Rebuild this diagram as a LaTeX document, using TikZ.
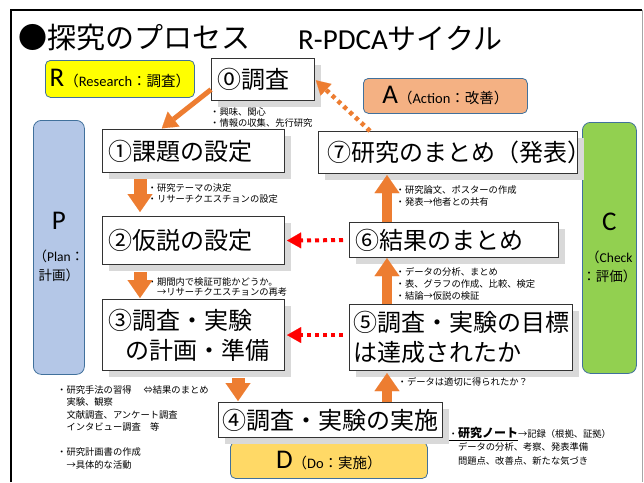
\documentclass[tikz,border=0pt]{standalone}
\usepackage{fontspec}
\setmainfont{Noto Sans CJK JP}
\newfontfamily\lat{Carlito}
\usepackage{tikz}
\usetikzlibrary{arrows.meta,shadows}

\definecolor{arrorange}{HTML}{ED7D31}
\definecolor{dotred}{HTML}{FF0000}
\definecolor{rfill}{HTML}{FFFF00}
\definecolor{afill}{HTML}{F4B183}
\definecolor{dfill}{HTML}{FFD966}
\definecolor{pfill}{HTML}{B4C7E7}
\definecolor{cfill}{HTML}{92D050}
\definecolor{labeledge}{HTML}{41719C}
\definecolor{shadowgray}{HTML}{D9D9D9}

\tikzset{
	stepbox/.style={draw=black!80, line width=1.1pt, fill=white, anchor=north west,
		align=left, inner xsep=6pt, inner ysep=0pt,
		font=\fontsize{24}{30}\selectfont,
		drop shadow={shadow xshift=6pt, shadow yshift=-6pt, fill=shadowgray, opacity=1}},
	labelbox/.style={draw=labeledge, line width=0.8pt, rounded corners=5pt,
		anchor=north west, align=center, inner sep=0pt},
	notetext/.style={anchor=north west, align=left, inner sep=0pt,
		font=\fontsize{9.3}{11}\selectfont},
	fatarrow/.style={draw=arrorange, line width=12pt,
		-{Triangle[width=25pt,length=18pt,line width=0.1pt]}},
	dotarrow/.style={line width=4pt, dash pattern=on 4pt off 4pt,
		-{Triangle[width=16pt,length=14pt,line width=0.1pt]}},
}

\begin{document}
\begin{tikzpicture}[x=1pt,y=-1pt]
	\useasboundingbox (0,0) rectangle (644,482);

	% frame
	\draw [line width=2pt] (11,482) -- (11,10) -- (642,10);
	\draw [black!35] (642,10) -- (642,482);

	% title
	\node [anchor=west, inner sep=0pt, font=\fontsize{29}{29}\selectfont] (title) at (18,38) {●探究のプロセス};
	\node [anchor=west, inner sep=0pt, font=\fontsize{29}{29}\selectfont] (subtitle) at (298,38) {{\lat R-PDCA}サイクル};

	% R P D C A labels
	\node [labelbox, fill=rfill, minimum width=149pt, minimum height=37pt] (rlabel) at (45,60)
		{{\lat\fontsize{27}{27}\selectfont R}{\fontsize{14.5}{14.5}\selectfont （{\lat Research}：調査）}};
	\node [labelbox, fill=afill, minimum width=164pt, minimum height=35pt] (alabel) at (363,78)
		{{\lat\fontsize{27}{27}\selectfont A}{\fontsize{14.5}{14.5}\selectfont （{\lat Action}：改善）}};
	\node [labelbox, fill=dfill, minimum width=197pt, minimum height=36pt] (dlabel) at (230,442)
		{{\lat\fontsize{27}{27}\selectfont D}{\fontsize{14.5}{14.5}\selectfont （{\lat Do}：実施）}};
	\node [labelbox, fill=pfill, rounded corners=8pt, minimum width=51pt, minimum height=254pt,
		font=\fontsize{13.5}{19}\selectfont] (plabel) at (33,120)
		{{\lat\fontsize{27}{27}\selectfont P}\\[13pt]（{\lat Plan}：\\計画）};
	\node [labelbox, fill=cfill, rounded corners=8pt, minimum width=53pt, minimum height=251pt,
		font=\fontsize{13.5}{19}\selectfont] (clabel) at (582,122)
		{{\lat\fontsize{27}{27}\selectfont C}\\[13pt]（{\lat Check}\\：評価）};

	% steps
	\node [stepbox, text width=91pt, minimum height=42pt] (s0) at (211,58) {⓪調査};
	\node [stepbox, text width=170pt, minimum height=43pt] (s1) at (102,129) {①課題の設定};
	\node [stepbox, text width=170pt, minimum height=48pt] (s2) at (102,216) {②仮説の設定};
	\node [stepbox, text width=170pt, minimum height=71pt] (s3) at (102,299) {③調査・実験\\\hspace*{17pt}の計画・準備};
	\node [stepbox, text width=220pt, minimum height=35pt, inner xsep=2pt, align=center] (s4) at (218,402) {④調査・実験の実施};
	\node [stepbox, text width=215pt, minimum height=66pt, inner xsep=4pt] (s5) at (349,304) {⑤調査・実験の目標\\は達成されたか};
	\node [stepbox, text width=197pt, minimum height=35pt] (s6) at (349,222) {⑥結果のまとめ};
	\node [stepbox, text width=241pt, minimum height=42pt, inner xsep=9pt] (s7) at (318,131) {⑦研究のまとめ（発表）};

	% notes
	\node [notetext, font=\fontsize{9.3}{10.5}\selectfont] (n0) at (210,108) {・興味、関心\\・情報の収集、先行研究};
	\node [notetext] (n1) at (147.5,183) {・研究テーマの決定\\・リサーチクエスチョンの設定};
	\node [notetext, font=\fontsize{9.3}{10.5}\selectfont] (n2) at (147.5,277) {・期間内で検証可能かどうか。\\　→リサーチクエスチョンの再考};
	\node [notetext, font=\fontsize{9.3}{12.6}\selectfont] (n3) at (57,385)
		{・研究手法の習得\hspace{12pt}⇔結果のまとめ\\　実験、観察\\　文献調査、アンケート調査\\　インタビュー調査　等\\[12pt]・研究計画書の作成\\　→具体的な活動};
	\node [notetext, font=\fontsize{9.3}{12}\selectfont] (n7) at (395.5,185) {・研究論文、ポスターの作成\\・発表→他者との共有};
	\node [notetext, font=\fontsize{9.3}{12}\selectfont] (n6) at (395.5,267) {・データの分析、まとめ\\・表、グラフの作成、比較、検定\\・結論→仮説の検証};
	\node [notetext] (n5) at (397.5,377) {・データは適切に得られたか？};
	\node [notetext, font=\fontsize{9.3}{13.5}\selectfont] (note) at (448.5,427)
		{\underline{・\textbf{\fontsize{12}{12}\selectfont 研究ノート}}→記録（根拠、証拠）\\　データの分析、考察、発表準備\\　問題点、改善点、新たな気づき};

	% arrow columns
	\coordinate (colA) at (161,0);
	\coordinate (colL) at (140,0);
	\coordinate (colD) at (238,0);
	\coordinate (colR) at (387,0);
	\coordinate (colM) at (370,0);

	% flow
	\draw [draw=arrorange, line width=5pt, -{Triangle[width=19pt,length=15pt,line width=0.1pt]}, shorten >=1pt]
		([yshift=-10pt]s0.west) -- (s1.north -| colA);
	\draw [fatarrow, line width=13pt, shorten <=6pt, shorten >=4pt] (s1.south -| colL) -- (s2.north -| colL);
	\draw [fatarrow, line width=13pt, shorten <=7pt, shorten >=1pt] (s2.south -| colL) -- (s3.north -| colL);
	\draw [fatarrow, line width=13pt, shorten <=7pt, shorten >=1pt] (s3.south -| colD) -- (s4.north -| colD);
	\draw [fatarrow, line width=10pt, shorten >=2pt] (s4.north -| colR) -- (s5.south -| colR);
	\draw [fatarrow, line width=10pt] (s5.north -| colR) -- (s6.south -| colR);
	\draw [fatarrow, line width=10pt, shorten >=1pt] (s6.north -| colR) -- (s7.south -| colR);
	\draw [dotarrow, draw=arrorange, line width=4.5pt, shorten >=1pt] (s7.north -| colM) -- (s0.east);

	% back to plan
	\draw [dotarrow, draw=dotred, shorten <=6pt, shorten >=2pt] (s6.west) -- (s2.east);
	\draw [dotarrow, draw=dotred, shorten <=6pt, shorten >=2pt] (s5.west |- s3.east) -- (s3.east);
\end{tikzpicture}
\end{document}
